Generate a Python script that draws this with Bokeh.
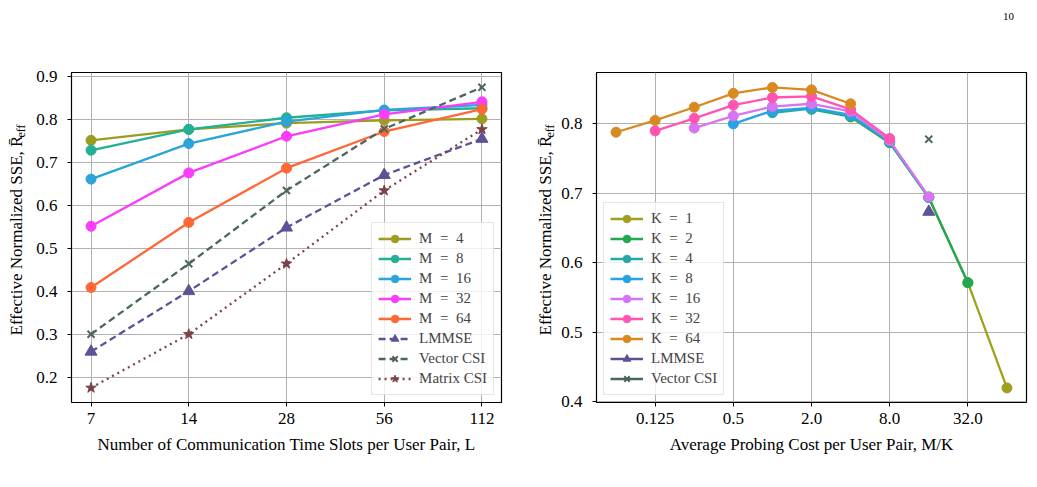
import math
from bokeh.plotting import figure
from bokeh.layouts import row
from bokeh.models import FixedTicker, Label, Range1d
from bokeh.embed import file_html
from bokeh.resources import INLINE

FONT = "Liberation Serif"

# ---------------- left panel data ----------------
L_slots = [7, 14, 28, 56, 112]
L_tick_labels = ["7", "14", "28", "56", "112"]
m4 = [0.7515, 0.777, 0.7915, 0.798, 0.8015]
m8 = [0.7285, 0.777, 0.804, 0.821, 0.826]
m16 = [0.6615, 0.744, 0.795, 0.822, 0.834]
m32 = [0.552, 0.676, 0.761, 0.812, 0.841]
m64 = [0.410, 0.561, 0.687, 0.772, 0.824]
lmmse_L = [0.261, 0.4015, 0.549, 0.671, 0.755]
vector_L = [0.3015, 0.465, 0.635, 0.778, 0.8746]
matrix_L = [0.177, 0.3015, 0.465, 0.635, 0.777]
left_y_ticks = [0.2, 0.3, 0.4, 0.5, 0.6, 0.7, 0.8, 0.9]

# ---------------- right panel data ----------------
mk_ticks = [0.125, 0.5, 2.0, 8.0, 32.0]
mk_tick_labels = ["0.125", "0.5", "2.0", "8.0", "32.0"]
k1_x = [4, 8, 16, 32, 64]
k1_y = [0.810, 0.773, 0.694, 0.5715, 0.420]
k2_x = [2, 4, 8, 16, 32]
k2_y = [0.821, 0.8105, 0.773, 0.694, 0.5715]
k4_x = [1, 2, 4, 8, 16]
k4_y = [0.816, 0.822, 0.8115, 0.774, 0.6945]
k8_x = [0.5, 1, 2, 4, 8, 16]
k8_y = [0.800, 0.819, 0.823, 0.813, 0.775, 0.6945]
k16_x = [0.25, 0.5, 1, 2, 4, 8, 16]
k16_y = [0.794, 0.8115, 0.825, 0.829, 0.818, 0.776, 0.695]
k32_x = [0.125, 0.25, 0.5, 1, 2, 4, 8]
k32_y = [0.790, 0.808, 0.827, 0.838, 0.8396, 0.821, 0.779]
k64_x = [0.0625, 0.125, 0.25, 0.5, 1, 2, 4]
k64_y = [0.788, 0.805, 0.824, 0.844, 0.8525, 0.849, 0.829]
lmmse_mk_x = [16]
lmmse_mk_y = [0.6735]
vector_mk_x = [16]
vector_mk_y = [0.778]
right_y_ticks = [0.4, 0.5, 0.6, 0.7, 0.8]

LW = 2.3
MS = 10
SP = "\u2002"
YLABEL = "Effective Normalized SSE, R\u0304"


def style(p, xticks, xlabels, yticks):
    p.outline_line_color = "black"
    p.outline_line_width = 1.2
    p.background_fill_color = "white"
    p.border_fill_color = "white"
    p.xaxis.ticker = FixedTicker(ticks=xticks)
    p.xaxis.major_label_overrides = {t: s for t, s in zip(xticks, xlabels)}
    p.yaxis.ticker = FixedTicker(ticks=yticks)
    for ax in (p.xaxis, p.yaxis):
        ax.axis_line_color = None
        ax.major_tick_in = 0
        ax.major_tick_out = 4
        ax.major_tick_line_color = "black"
        ax.major_tick_line_width = 1
        ax.minor_tick_line_color = None
        ax.major_label_text_font = FONT
        ax.major_label_text_font_size = "17px"
        ax.major_label_text_color = "black"
        ax.axis_label_text_font = FONT
        ax.axis_label_text_font_size = "17px"
        ax.axis_label_text_font_style = "normal"
        ax.axis_label_text_color = "black"
    p.xaxis.major_label_standoff = 6
    p.yaxis.major_label_standoff = 10
    p.xaxis.axis_label_standoff = 8
    for g in (p.xgrid, p.ygrid):
        g.grid_line_color = "#b0b0b0"
        g.grid_line_width = 1


def style_legend(p, loc):
    lg = p.legend[0]
    lg.location = loc
    lg.margin = 7
    lg.padding = 6
    lg.spacing = 1
    lg.glyph_height = 19
    lg.label_height = 19
    lg.glyph_width = 33
    lg.label_standoff = 8
    lg.label_text_font = FONT
    lg.label_text_font_size = "15px"
    lg.border_line_color = "#cccccc"
    lg.border_line_width = 1
    lg.background_fill_alpha = 0.8


def ylabels(p, main_x, eff_x):
    # main label panel (next to the axis), then the subscript panel outside it
    p.add_layout(Label(x=main_x, y=67, x_units="screen", y_units="screen",
                       text=YLABEL, angle=math.pi / 2,
                       text_align="left", text_baseline="middle",
                       text_font=FONT, text_font_size="17px", text_color="black"), "left")
    p.add_layout(Label(x=eff_x, y=265, x_units="screen", y_units="screen",
                       text="eff", angle=math.pi / 2,
                       text_align="left", text_baseline="middle",
                       text_font=FONT, text_font_size="12px", text_color="black"), "left")


# ---------------- left figure ----------------
p1 = figure(width=525, height=487, x_axis_type="log", output_backend="svg",
            toolbar_location=None, min_border_left=70, min_border_right=24,
            min_border_top=72, min_border_bottom=84,
            x_range=Range1d(7 * 2 ** -0.2, 112 * 2 ** 0.2),
            y_range=Range1d(0.143, 0.909))
style(p1, L_slots, L_tick_labels, left_y_ticks)
p1.xaxis.axis_label = "Number of Communication Time Slots per User Pair, L"

left_series = [
    (m4, "#9c9c1f", "4"),
    (m8, "#22b096", "8"),
    (m16, "#2ba4da", "16"),
    (m32, "#fb3cfb", "32"),
    (m64, "#ff6836", "64"),
]
for ys, c, lab in left_series:
    name = "M" + SP + "=" + SP + lab
    p1.line(L_slots, ys, line_color=c, line_width=LW, legend_label=name)
    p1.scatter(L_slots, ys, marker="circle", size=MS, fill_color=c, line_color=c, legend_label=name)

p1.line(L_slots, lmmse_L, line_color="#5d5295", line_width=LW, line_dash="7 4", legend_label="LMMSE")
p1.scatter(L_slots, lmmse_L, marker="triangle", size=12, fill_color="#5d5295", line_color="#5d5295", legend_label="LMMSE")
p1.line(L_slots, vector_L, line_color="#4d665e", line_width=LW, line_dash="7 4", legend_label="Vector CSI")
p1.scatter(L_slots, vector_L, marker="x", size=10, line_color="#4d665e", line_width=2, legend_label="Vector CSI")
p1.line(L_slots, matrix_L, line_color="#7b4249", line_width=LW, line_dash="2 4", legend_label="Matrix CSI")
p1.scatter(L_slots, matrix_L, marker="star", size=11, fill_color="#7b4249", line_color="#7b4249", legend_label="Matrix CSI")
style_legend(p1, "bottom_right")
ylabels(p1, 2, 20)

# ---------------- right figure ----------------
p2 = figure(width=512, height=487, x_axis_type="log", output_backend="svg",
            toolbar_location=None, min_border_left=71, min_border_right=11,
            min_border_top=71, min_border_bottom=85,
            x_range=Range1d(2 ** -4.5, 2 ** 6.5),
            y_range=Range1d(0.399, 0.874))
style(p2, mk_ticks, mk_tick_labels, right_y_ticks)
p2.xaxis.axis_label = "Average Probing Cost per User Pair, M/K"

right_series = [
    (k1_x, k1_y, "#a0a020", "1"),
    (k2_x, k2_y, "#1fa84f", "2"),
    (k4_x, k4_y, "#26a8a8", "4"),
    (k8_x, k8_y, "#26a2e6", "8"),
    (k16_x, k16_y, "#d873f2", "16"),
    (k32_x, k32_y, "#ff55b0", "32"),
    (k64_x, k64_y, "#d98a1f", "64"),
]
for xs, ys, c, lab in right_series:
    name = "K" + SP + "=" + SP + lab
    p2.line(xs, ys, line_color=c, line_width=LW, legend_label=name)
    p2.scatter(xs, ys, marker="circle", size=MS, fill_color=c, line_color=c, legend_label=name)

p2.line(lmmse_mk_x, lmmse_mk_y, line_color="#5d5295", line_width=LW, legend_label="LMMSE")
p2.scatter(lmmse_mk_x, lmmse_mk_y, marker="triangle", size=12, fill_color="#5d5295", line_color="#5d5295", legend_label="LMMSE")
p2.line(vector_mk_x, vector_mk_y, line_color="#4d665e", line_width=LW, legend_label="Vector CSI")
p2.scatter(vector_mk_x, vector_mk_y, marker="x", size=10, line_color="#4d665e", line_width=2, legend_label="Vector CSI")
style_legend(p2, "bottom_left")
ylabels(p2, 6, 24)

p2.add_layout(Label(x=412, y=56, x_units="screen", y_units="screen", text="10",
                    text_align="center", text_baseline="middle",
                    text_font=FONT, text_font_size="11px", text_color="black"), "above")

layout = row(p1, p2)
open("out.html", "w").write(file_html(layout, INLINE))
